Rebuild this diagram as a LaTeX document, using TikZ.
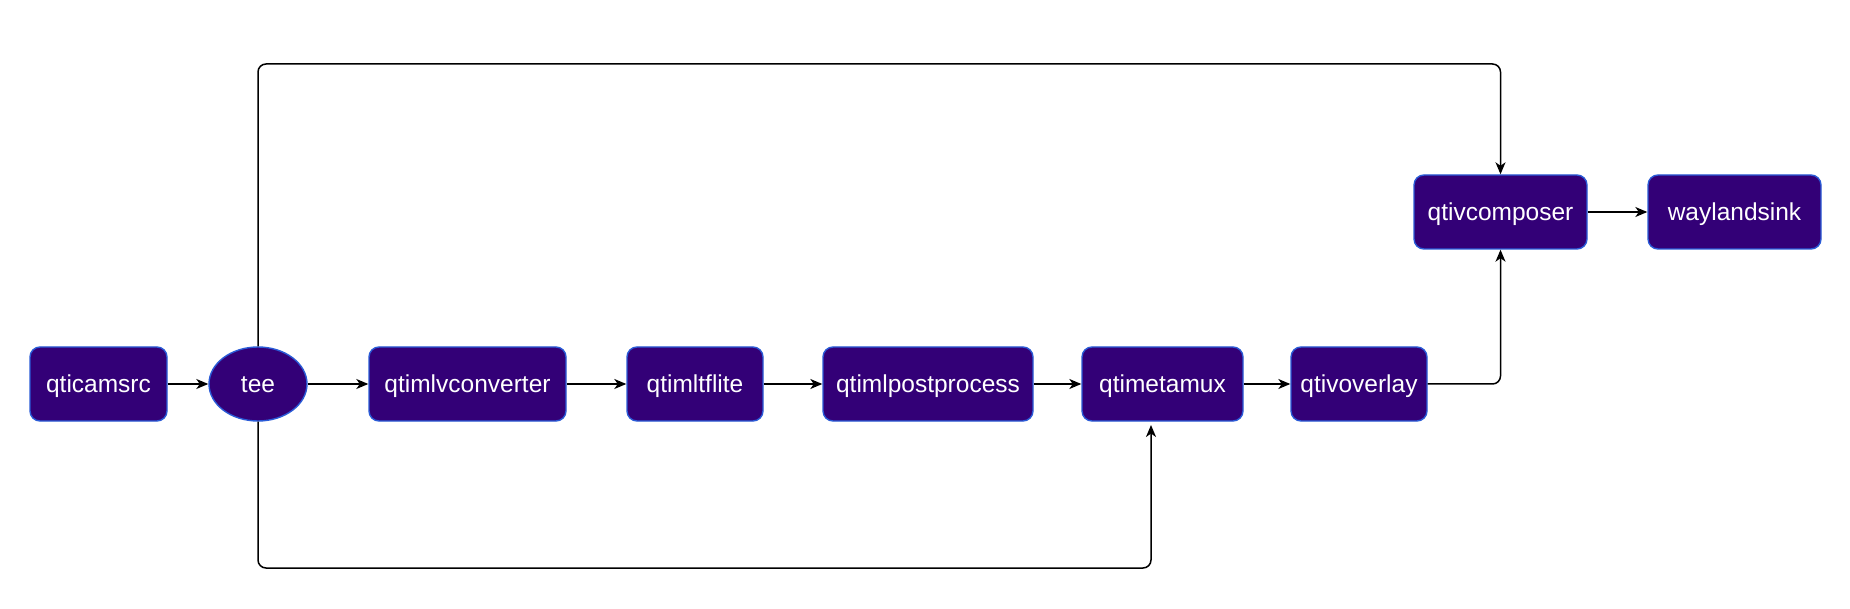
\documentclass[tikz,border=0pt]{standalone}
\usepackage{fontspec}
\setmainfont{Liberation Sans}
\usetikzlibrary{shapes.geometric,arrows.meta}
\definecolor{boxfill}{HTML}{330077}
\definecolor{boxline}{HTML}{2A5BD7}
\begin{document}
\begin{tikzpicture}[x=1pt,y=-1pt,
  lbl/.style={text=white,font=\fontsize{24.5}{29}\selectfont,text height=22.2pt,text depth=5.2pt},
  blk/.style={lbl,draw=boxline,fill=boxfill,line width=1.4pt,rounded corners=10pt,
    minimum height=74pt,inner sep=0pt},
  oval/.style={lbl,ellipse,draw=boxline,fill=boxfill,line width=1.4pt,minimum width=98pt,
    minimum height=74pt,inner sep=0pt},
  conn/.style={draw=black,line width=1.5pt,rounded corners=8pt,
    -{Stealth[length=12pt,width=10pt,inset=3.5pt]}}]
\useasboundingbox[fill=white] (0,0) rectangle (1850,609);
\node[blk,minimum width=137pt] (cam) at (98.5,384) {qticamsrc};
\node[oval] (tee) at (258,384) {tee};
\node[blk,minimum width=197pt] (lv) at (467.5,384) {qtimlvconverter};
\node[blk,minimum width=136pt] (tfl) at (695,384) {qtimltflite};
\node[blk,minimum width=210pt] (pp) at (928,384) {qtimlpostprocess};
\node[blk,minimum width=161pt] (mux) at (1162.5,384) {qtimetamux};
\node[blk,minimum width=136pt] (ovl) at (1359,384) {qtivoverlay};
\node[blk,minimum width=173pt] (comp) at (1500.5,212) {qtivcomposer};
\node[blk,minimum width=173pt] (sink) at (1734.5,212) {waylandsink};
\coordinate (muxin) at (1151,421);
\draw[conn] (cam) -- (tee);
\draw[conn] (tee) -- (lv);
\draw[conn] (lv) -- (tfl);
\draw[conn] (tfl) -- (pp);
\draw[conn] (pp) -- (mux);
\draw[conn] (mux) -- (ovl);
\draw[conn] (comp) -- (sink);
\draw[conn] (ovl.east) -| (comp.south);
\draw[conn] (tee.north) -- (258,64) -| (comp.north);
\draw[conn,shorten >=4pt] (tee.south) -- (258,568) -| (muxin);
\end{tikzpicture}
\end{document}
